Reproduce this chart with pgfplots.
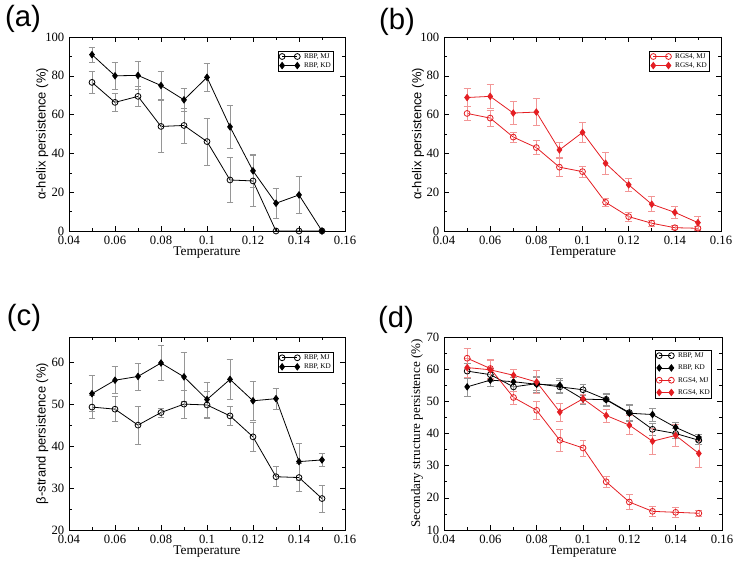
\documentclass[border=0pt]{standalone}
\usepackage{fontspec}
\setmainfont{Liberation Serif}
\newfontfamily\lsans{Liberation Sans}
\usepackage{pgfplots}
\pgfplotsset{compat=1.18}

\definecolor{myred}{RGB}{228,30,35}
\definecolor{lred}{RGB}{242,150,150}
\definecolor{egray}{RGB}{150,150,150}

\pgfplotsset{
  panel/.style={
    scale only axis,
    xmin=0.04, xmax=0.16,
    xtick={0.04,0.06,0.08,0.1,0.12,0.14,0.16},
    minor x tick num=1, minor y tick num=1,
    scaled x ticks=false,
    xticklabel style={/pgf/number format/fixed, /pgf/number format/precision=2},
    /pgf/number format/assume math mode=true,
    tick label style={font=\fontsize{9.5}{10}\selectfont},
    xlabel={Temperature},
    xlabel style={font=\fontsize{10}{11}\selectfont, at={(axis description cs:0.5,0)}, anchor=center, yshift=-16.5pt},
    ylabel style={font=\lsans\fontsize{9.7}{11}\selectfont, anchor=center},
    major tick length=4pt, minor tick length=2pt,
    tick style={black, line width=0.4pt},
    axis line style={line width=0.5pt},
    legend style={font=\fontsize{5.4}{6}\selectfont, draw=black, line width=0.4pt,
      inner sep=1pt, row sep=0.6pt, anchor=north east,
      nodes={inner sep=0.5pt, text height=4pt, text depth=1.2pt}},
    legend cell align=left,
    legend image code/.code={\draw[mark repeat=2, mark phase=1] plot coordinates {(0cm,0cm) (0.2cm,0cm) (0.4cm,0cm)};
      \path (0.55cm,0cm);},
  },
  ser/.style={line width=0.6pt, mark size=2pt, mark options={solid},
    error bars/y dir=both, error bars/y explicit,
    error bars/error bar style={#1, line width=0.5pt},
    error bars/error mark options={rotate=90, #1, mark size=2.6pt, line width=0.5pt}},
  mjb/.style={ser=egray, black, mark=o, mark size=2.2pt},
  kdb/.style={ser=egray, black, mark=diamond*, mark size=2.4pt},
  mjr/.style={ser=lred, myred, mark=o, mark size=2.2pt},
  kdr/.style={ser=lred, myred, mark=diamond*, mark size=2.4pt, mark options={fill=myred}},
}

\begin{document}
\begin{tikzpicture}
\useasboundingbox (0,0) rectangle (554.25pt,425.25pt);

% (a)
\begin{axis}[panel, at={(51.75pt,252pt)}, anchor=south west,
  width=207pt, height=145.5pt,
  ymin=0, ymax=100, ytick={0,20,...,100},
  ylabel={α-helix persistence (\%)},
  ylabel style={at={(axis description cs:-0.097,0.5)}},
  legend style={at={(0.957,0.929)}}]
\addplot+[mjb] coordinates {
 (0.05,76.6) +- (0,5.5) (0.06,66.3) +- (0,4.6) (0.07,69.4) +- (0,5.0)
 (0.08,53.9) +- (0,13.5) (0.09,54.4) +- (0,9.0) (0.10,46.1) +- (0,12.0)
 (0.11,26.3) +- (0,11.7) (0.12,25.8) +- (0,13.0) (0.13,0) +- (0,0)
 (0.14,0) +- (0,0) (0.15,0) +- (0,0)};
\addplot+[kdb] coordinates {
 (0.05,90.9) +- (0,3.8) (0.06,80.0) +- (0,6.9) (0.07,80.2) +- (0,7.4)
 (0.08,75.0) +- (0,7.2) (0.09,67.6) +- (0,6.0) (0.10,79.2) +- (0,7.3)
 (0.11,53.7) +- (0,11.0) (0.12,31.0) +- (0,8.5) (0.13,14.3) +- (0,7.7)
 (0.14,18.6) +- (0,9.7) (0.15,0) +- (0,0)};
\legend{RBP, MJ\\RBP, KD\\}
\end{axis}

% (b)
\begin{axis}[panel, at={(333pt,252pt)}, anchor=south west,
  width=207.75pt, height=145.5pt,
  ymin=0, ymax=100, ytick={0,20,...,100},
  ylabel={α-helix persistence (\%)},
  ylabel style={at={(axis description cs:-0.094,0.5)}},
  legend style={at={(0.957,0.929)}}]
\addplot+[mjr] coordinates {
 (0.05,60.6) +- (0,3.6) (0.06,58.2) +- (0,4.0) (0.07,48.4) +- (0,2.6)
 (0.08,43.0) +- (0,3.5) (0.09,32.9) +- (0,4.6) (0.10,30.6) +- (0,2.8)
 (0.11,14.8) +- (0,2.0) (0.12,7.4) +- (0,2.2) (0.13,4.0) +- (0,1.5)
 (0.14,1.7) +- (0,1.0) (0.15,1.4) +- (0,1.0)};
\addplot+[kdr] coordinates {
 (0.05,68.8) +- (0,4.7) (0.06,69.4) +- (0,6.4) (0.07,60.8) +- (0,5.8)
 (0.08,61.3) +- (0,6.9) (0.09,41.8) +- (0,4.0) (0.10,50.8) +- (0,5.2)
 (0.11,34.9) +- (0,5.7) (0.12,23.8) +- (0,3.3) (0.13,13.8) +- (0,3.9)
 (0.14,9.6) +- (0,3.2) (0.15,4.3) +- (0,3.2)};
\legend{RGS4, MJ\\RGS4, KD\\}
\end{axis}

% (c)
\begin{axis}[panel, at={(51.75pt,27.75pt)}, anchor=south west,
  width=207pt, height=144.75pt,
  ymin=20, ymax=66, ytick={20,30,...,60},
  ylabel={β-strand persistence (\%)},
  ylabel style={at={(axis description cs:-0.097,0.5)}},
  legend style={at={(0.957,0.922)}}]
\addplot+[mjb] coordinates {
 (0.05,49.3) +- (0,2.7) (0.06,48.8) +- (0,3.0) (0.07,45.0) +- (0,4.5)
 (0.08,48.0) +- (0,1.1) (0.09,50.0) +- (0,3.4) (0.10,49.8) +- (0,3.3)
 (0.11,47.2) +- (0,2.2) (0.12,42.2) +- (0,3.4) (0.13,32.7) +- (0,2.4)
 (0.14,32.5) +- (0,3.3) (0.15,27.5) +- (0,3.2)};
\addplot+[kdb] coordinates {
 (0.05,52.5) +- (0,4.3) (0.06,55.7) +- (0,3.2) (0.07,56.6) +- (0,3.2)
 (0.08,59.8) +- (0,4.2) (0.09,56.5) +- (0,5.8) (0.10,51.1) +- (0,4.2)
 (0.11,55.9) +- (0,4.8) (0.12,50.8) +- (0,4.6) (0.13,51.3) +- (0,2.5)
 (0.14,36.3) +- (0,4.4) (0.15,36.7) +- (0,1.5)};
\legend{RBP, MJ\\RBP, KD\\}
\end{axis}

% (d)
\begin{axis}[panel, at={(333pt,27.75pt)}, anchor=south west,
  width=208.5pt, height=144.75pt,
  ymin=10, ymax=70, ytick={10,20,...,70},
  ylabel={Secondary structure persistence (\%)},
  ylabel style={font=\fontsize{9.8}{11}\selectfont, at={(axis description cs:-0.097,0.5)}},
  legend style={at={(0.964,0.933)}, row sep=3pt},
  legend image code/.code={\draw[mark repeat=2, mark phase=1] plot coordinates {(0cm,0cm) (0.16cm,0cm) (0.32cm,0cm)};
    \path (0.47cm,0cm);}]
\addplot+[mjb] coordinates {
 (0.05,59.4) +- (0,2.3) (0.06,58.3) +- (0,2.0) (0.07,54.5) +- (0,1.5)
 (0.08,55.5) +- (0,2.0) (0.09,54.5) +- (0,2.0) (0.10,53.6) +- (0,1.7)
 (0.11,50.6) +- (0,2.0) (0.12,46.5) +- (0,2.5) (0.13,41.3) +- (0,2.0)
 (0.14,40.0) +- (0,1.5) (0.15,37.9) +- (0,1.2)};
\addplot+[kdb] coordinates {
 (0.05,54.5) +- (0,2.8) (0.06,56.6) +- (0,1.8) (0.07,56.1) +- (0,1.5)
 (0.08,55.3) +- (0,2.4) (0.09,55.0) +- (0,2.2) (0.10,50.7) +- (0,1.5)
 (0.11,50.5) +- (0,1.8) (0.12,46.3) +- (0,2.5) (0.13,45.9) +- (0,2.0)
 (0.14,41.9) +- (0,1.5) (0.15,38.7) +- (0,1.0)};
\addplot+[mjr] coordinates {
 (0.05,63.4) +- (0,3.0) (0.06,60.2) +- (0,3.0) (0.07,51.2) +- (0,2.0)
 (0.08,47.2) +- (0,2.8) (0.09,37.9) +- (0,3.5) (0.10,35.5) +- (0,2.5)
 (0.11,25.0) +- (0,1.8) (0.12,18.7) +- (0,2.3) (0.13,15.8) +- (0,1.5)
 (0.14,15.5) +- (0,1.5) (0.15,15.2) +- (0,1.0)};
\addplot+[kdr] coordinates {
 (0.05,60.5) +- (0,3.0) (0.06,59.8) +- (0,3.0) (0.07,58.1) +- (0,2.0)
 (0.08,56.0) +- (0,3.5) (0.09,46.7) +- (0,2.8) (0.10,50.8) +- (0,1.5)
 (0.11,45.6) +- (0,2.0) (0.12,42.6) +- (0,3.0) (0.13,37.6) +- (0,4.0)
 (0.14,39.4) +- (0,3.5) (0.15,33.8) +- (0,4.2)};
\legend{RBP, MJ\\RBP, KD\\RGS4, MJ\\RGS4, KD\\}
\end{axis}

\node[font=\lsans\fontsize{22}{22}\selectfont] at (17.25pt,411pt) {(a)};
\node[font=\lsans\fontsize{22}{22}\selectfont] at (297.75pt,408.75pt) {(b)};
\node[font=\lsans\fontsize{22}{22}\selectfont] at (18pt,186.75pt) {(c)};
\node[font=\lsans\fontsize{22}{22}\selectfont] at (297pt,185.25pt) {(d)};
\end{tikzpicture}
\end{document}
